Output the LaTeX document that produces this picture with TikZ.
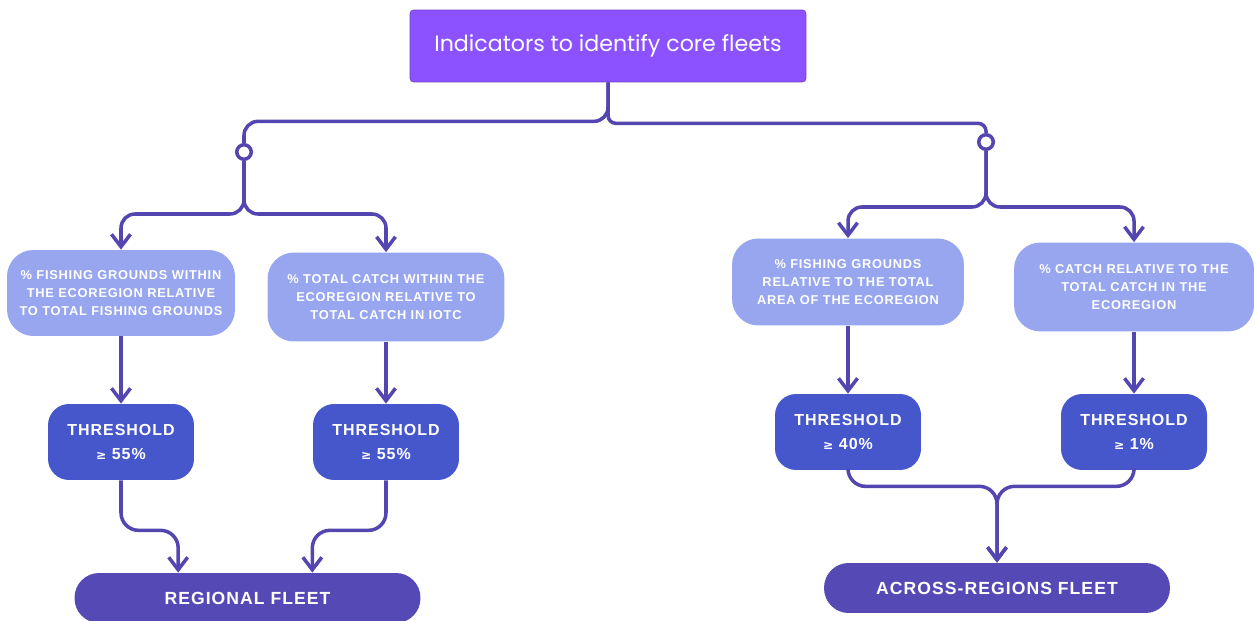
\documentclass[tikz,border=0pt]{standalone}
\usepackage{fontspec}
\setmainfont{Liberation Sans}
\newfontfamily\titlefont{Poppins}
\newfontfamily\boxfont[LetterSpace=6]{Liberation Sans}
\usetikzlibrary{arrows.meta,calc}

\definecolor{titleviolet}{HTML}{8C52FF}
\definecolor{paleblue}{HTML}{97A6EE}
\definecolor{threshblue}{HTML}{4657CC}
\definecolor{fleetpurple}{HTML}{5549B6}
\definecolor{linkpurple}{HTML}{5446B0}

\tikzset{
    headbox/.style={fill=titleviolet, text=white, rounded corners=2pt,
        draw=titleviolet!80!black, line width=0.4pt,
        minimum width=7.92cm, minimum height=1.44cm,
        font=\titlefont\fontsize{12.6}{15}\selectfont},
    indicator/.style={fill=paleblue, text=white, rounded corners=15pt,
        align=center, inner sep=0pt,
        font=\boxfont\bfseries\fontsize{7.3}{10.2}\selectfont},
    threshbox/.style={fill=threshblue, text=white, rounded corners=12pt,
        align=center, inner sep=0pt, minimum width=2.92cm, minimum height=1.52cm,
        font=\boxfont\bfseries\fontsize{9.1}{13.5}\selectfont},
    fleetbox/.style={fill=fleetpurple, text=white, rounded corners=14pt,
        inner sep=0pt, minimum width=6.92cm, minimum height=1cm,
        font=\boxfont\bfseries\fontsize{10}{12}\selectfont},
    junction/.style={circle, draw=linkpurple, fill=white, line width=2pt,
        inner sep=0pt, minimum size=0.29cm},
    flow/.style={draw=linkpurple, line width=2pt, rounded corners=8pt,
        -{Straight Barb[length=2.5mm, width=3.8mm, line width=2pt]}},
    link/.style={draw=linkpurple, line width=2pt, rounded corners=8pt}
}

\begin{document}
\begin{tikzpicture}[x=0.02cm, y=-0.02cm]
    \useasboundingbox (0,0) rectangle (1257,621);

    % top of the tree
    \node[headbox] (title) at (608,46) {Indicators to identify core fleets};
    \node[junction] (jl) at (244,152) {};
    \node[junction] (jr) at (986,142) {};

    % regional side
    \node[indicator, minimum width=4.56cm, minimum height=1.72cm] (ecoGround) at (121,293)
        {\% FISHING GROUNDS WITHIN\\THE ECOREGION RELATIVE\\TO TOTAL FISHING GROUNDS};
    \node[indicator, minimum width=4.74cm, minimum height=1.78cm] (ecoCatch) at (386,297)
        {\% TOTAL CATCH WITHIN THE\\ECOREGION RELATIVE TO\\TOTAL CATCH IN IOTC};
    \node[threshbox] (thrA) at (121,442) {THRESHOLD\\{\fontspec{DejaVu Sans}\fontsize{7}{13}\selectfont ≥} 55\%};
    \node[threshbox] (thrB) at (386,442) {THRESHOLD\\{\fontspec{DejaVu Sans}\fontsize{7}{13}\selectfont ≥} 55\%};
    \node[fleetbox] (regional) at (247.5,598) {REGIONAL FLEET};

    % across-regions side
    \node[indicator, minimum width=4.64cm, minimum height=1.74cm] (areaGround) at (848,282)
        {\% FISHING GROUNDS\\RELATIVE TO THE TOTAL\\AREA OF THE ECOREGION};
    \node[indicator, minimum width=4.8cm, minimum height=1.78cm] (areaCatch) at (1134,287)
        {\% CATCH RELATIVE TO THE\\TOTAL CATCH IN THE\\ECOREGION};
    \node[threshbox] (thrC) at (848,432) {THRESHOLD\\{\fontspec{DejaVu Sans}\fontsize{7}{13}\selectfont ≥} 40\%};
    \node[threshbox] (thrD) at (1134,432) {THRESHOLD\\{\fontspec{DejaVu Sans}\fontsize{7}{13}\selectfont ≥} 1\%};
    \node[fleetbox] (across) at (997,588) {ACROSS-REGIONS FLEET};

    % connectors
    \draw[link] (title.south) -- ++(0,39) -| (jl.north);
    \draw[link, rounded corners=4.5pt] (title.south) -- ++(0,41) -| (jr.north);
    \draw[flow] (jl.south) -- ++(0,53) -| (ecoGround.north);
    \draw[flow] (jl.south) -- ++(0,53) -| (ecoCatch.north);
    \draw[flow] (jr.south) -- ++(0,56) -| (areaGround.north);
    \draw[flow] (jr.south) -- ++(0,56) -| (areaCatch.north);
    \draw[flow] (ecoGround) -- (thrA);
    \draw[flow] (ecoCatch) -- (thrB);
    \draw[flow] (areaGround) -- (thrC);
    \draw[flow] (areaCatch) -- (thrD);
    \draw[flow, rounded corners=10pt] (thrA.south) -- ++(0,50) -| ($(regional.north west)!0.3!(regional.north east)$);
    \draw[flow, rounded corners=10pt] (thrB.south) -- ++(0,50) -| ($(regional.north west)!0.687!(regional.north east)$);
    \draw[flow, rounded corners=10pt] (thrC.south) -- ++(0,16) -| (across.north);
    \draw[flow, rounded corners=10pt] (thrD.south) -- ++(0,16) -| (across.north);
\end{tikzpicture}
\end{document}
